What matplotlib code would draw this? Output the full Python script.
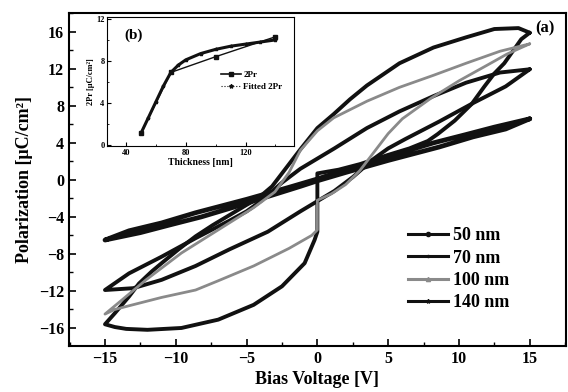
import matplotlib
matplotlib.use("Agg")
import matplotlib.pyplot as plt
from matplotlib.lines import Line2D
from matplotlib.ticker import MultipleLocator

plt.rcParams['font.family'] = ['Liberation Serif', 'DejaVu Serif']
plt.rcParams['font.weight'] = 'bold'

# ---- main panel data: hysteresis loops (voltage V, polarization uC/cm2) ----
# 140 nm
v140_up = [15, 14.2, 12.5, 10.5, 8.2, 5.8, 3.5, 2.3, 1.15, 0, -1.2, -2.2, -3.2, -4.2, -5, -6.2, -7.4, -8.6, -9.8, -11, -11.7, -12.6, -13.3, -14.3, -15]
p140_up = [15.9, 16.4, 16.3, 15.4, 14.3, 12.6, 10.2, 8.7, 7.1, 5.6, 3.3, 1.3, -0.7, -2.0, -2.7, -3.8, -4.9, -6.1, -7.5, -9.0, -9.9, -11.2, -12.6, -14.4, -15.6]
v140_lo = [-15, -14.3, -13.5, -12, -9.6, -7, -4.5, -2.5, -0.9, -0.2, 0, 0, 1.5, 3, 5, 6.5, 7.8, 8.5, 9.7, 10.9, 11.8, 12.5, 13.2, 14.4, 15]
p140_lo = [-15.6, -15.9, -16.1, -16.2, -16.0, -15.1, -13.5, -11.5, -9.0, -6.5, -5.6, 0.7, 1.1, 1.7, 2.7, 3.4, 4.2, 4.95, 6.4, 8.2, 10.1, 11.5, 12.6, 15.2, 15.9]

# 100 nm
v100_up = [15, 12.9, 10.5, 8.2, 5.8, 3.5, 1.15, 0, -1.2, -2.0, -3.0, -4.5, -7.0, -9.6, -12.1, -13.9, -15]
p100_up = [14.7, 13.9, 12.6, 11.3, 10.0, 8.5, 6.7, 5.3, 3.2, 0.8, -1.3, -3.0, -5.4, -7.9, -10.8, -13.1, -14.5]
v100_lo = [-15, -14.3, -13.3, -11, -8.6, -7.0, -4.5, -2.0, -0.4, 0, 0, 1, 2, 3, 4, 5, 6, 8, 10, 12, 13.4, 15]
p100_lo = [-14.5, -14.0, -13.6, -12.7, -11.9, -10.9, -9.3, -7.4, -6.0, -5.4, -2.2, -1.5, -0.5, 1.0, 3.0, 5.0, 6.6, 8.8, 10.7, 12.4, 13.6, 14.7]

# 70 nm
v70_up = [15, 12.9, 10.5, 8.2, 5.8, 3.5, 1.2, 0, -1.2, -2.5, -4, -5, -6.2, -8.6, -11, -13.3, -15]
p70_up = [11.95, 11.6, 10.5, 9.05, 7.4, 5.6, 3.4, 2.3, 1.2, -0.3, -2.3, -3.4, -4.4, -6.3, -8.3, -10.1, -11.9]
v70_lo = [-15, -13, -11, -8.6, -6.2, -3.5, -1.2, 0, 1.2, 2.5, 4, 5, 6.2, 8.6, 11, 13.3, 15]
p70_lo = [-11.9, -11.7, -10.8, -9.3, -7.5, -5.6, -3.4, -2.3, -1.2, 0.3, 2.3, 3.4, 4.4, 6.3, 8.3, 10.1, 11.95]

# 50 nm
v50_up = [15, 12.5, 10.5, 8.2, 5.8, 3.5, 1.2, 0, -2, -5, -8.6, -11, -13.3, -15]
p50_up = [6.6, 5.7, 4.9, 4.0, 2.9, 1.8, 0.7, 0.1, -0.8, -2.1, -3.55, -4.65, -5.5, -6.5]
v50_lo = [-15, -12.5, -10.5, -8.2, -5.8, -3.5, -1.2, 0, 2, 5, 8.6, 11, 13.3, 15]
p50_lo = [-6.5, -5.7, -4.9, -4.0, -2.9, -1.8, -0.7, -0.1, 0.8, 2.1, 3.55, 4.65, 5.5, 6.6]

labels = ['50 nm', '70 nm', '100 nm', '140 nm']
x_ticks = [-15, -10, -5, 0, 5, 10, 15]
y_ticks = [-16, -12, -8, -4, 0, 4, 8, 12, 16]

# ---- inset data ----
thick = [50, 70, 100, 140]
pr2 = [1.1, 6.9, 8.4, 10.3]
thick_fit = [50, 55, 60, 65, 70, 75, 80, 90, 100, 110, 120, 130, 140]
pr2_fit = [1.1, 2.6, 4.1, 5.6, 6.9, 7.6, 8.1, 8.7, 9.1, 9.4, 9.6, 9.8, 10.0]

fig = plt.figure(figsize=(5.68, 3.92), dpi=100)
ax = fig.add_axes([0.1215, 0.1173, 0.8745, 0.850])

black = '#111111'
gray = '#8a8a8a'
ax.plot(v50_up + v50_lo, p50_up + p50_lo, color=black, lw=3.4, solid_capstyle='round')
ax.plot(v70_up + v70_lo, p70_up + p70_lo, color=black, lw=2.8, solid_capstyle='round')
ax.plot(v140_up + v140_lo, p140_up + p140_lo, color=black, lw=2.8, solid_capstyle='round')
ax.plot(v100_up + v100_lo, p100_up + p100_lo, color=gray, lw=2.0, solid_capstyle='round')

ax.set_xlim(-17.54, 17.54)
ax.set_ylim(-17.95, 18.05)
ax.set_xticks(x_ticks)
ax.set_yticks(y_ticks)
ax.xaxis.set_minor_locator(MultipleLocator(2.5))
ax.yaxis.set_minor_locator(MultipleLocator(2))
ax.tick_params(which='major', direction='in', length=5, width=1.2, labelsize=11.5, top=False, right=False)
ax.tick_params(which='minor', direction='in', length=3, width=1.0, top=False, right=False)
for s in ax.spines.values():
    s.set_linewidth(1.5)
ax.set_xlabel('Bias Voltage [V]', fontsize=13, fontweight='bold', labelpad=3)
ax.set_ylabel('Polarization [μC/cm²]', fontsize=13, fontweight='bold', labelpad=4)
ax.text(16.1, 16.4, '(a)', fontsize=12, fontweight='bold', ha='center', va='center')

markers = ['o', '.', '^', '*']
colors = [black, black, gray, black]
handles = [Line2D([0], [0], color=c, lw=2.2, marker=m, markersize=3) for c, m in zip(colors, markers)]
leg = ax.legend(handles, labels, loc='lower right', bbox_to_anchor=(0.92, 0.055), frameon=False,
                fontsize=13, handlelength=2.2, handletextpad=0.3, labelspacing=0.3)
for t in leg.get_texts():
    t.set_fontweight('bold')

# ---- inset ----
axi = fig.add_axes([0.189, 0.628, 0.329, 0.329])
axi.plot(thick_fit, pr2_fit, color=black, lw=2.2, marker='*', markersize=2.5)
axi.plot(thick, pr2, color=black, lw=1.0, marker='s', markersize=3)
axi.set_xlim(27.5, 152.6)
axi.set_ylim(-0.1, 12.2)
axi.set_xticks([40, 80, 120])
axi.set_yticks([0, 4, 8, 12])
axi.xaxis.set_minor_locator(MultipleLocator(20))
axi.yaxis.set_minor_locator(MultipleLocator(2))
axi.tick_params(which='major', direction='in', length=3, labelsize=6, top=False, right=False, pad=2)
axi.tick_params(which='minor', direction='in', length=1.5, top=False, right=False)
axi.set_xlabel('Thickness [nm]', fontsize=7, fontweight='bold', labelpad=1)
axi.set_ylabel('2Pr [μC/cm²]', fontsize=6, fontweight='bold', labelpad=1)
axi.text(45, 10.4, '(b)', fontsize=11, fontweight='bold', ha='center', va='center')
ih = [Line2D([0], [0], color=black, lw=1.2, marker='s', markersize=3),
      Line2D([0], [0], color=black, lw=0.8, ls=':', marker='*', markersize=3)]
il = axi.legend(ih, ['2Pr', 'Fitted 2Pr'], loc='lower right', bbox_to_anchor=(0.98, 0.36), frameon=False,
                fontsize=6.5, handlelength=2.2, handletextpad=0.3, labelspacing=0.4)
for t in il.get_texts():
    t.set_fontweight('bold')

fig.savefig('out.png', dpi=100)
